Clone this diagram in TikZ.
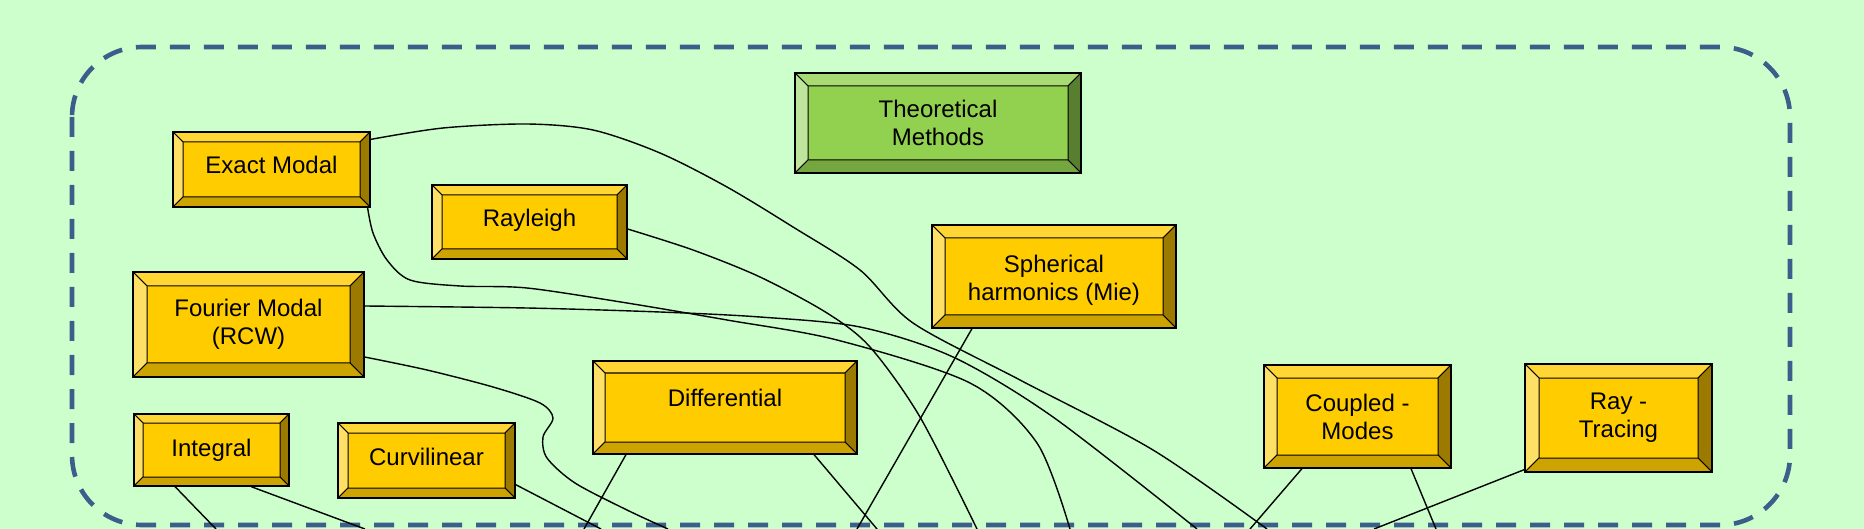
\documentclass[tikz,border=0pt]{standalone}
\usepackage{fontspec}
\setmainfont{Liberation Sans}

\definecolor{bgpale}{HTML}{CCFFCC}
\definecolor{grpblue}{HTML}{3C5E8B}
\definecolor{yelface}{HTML}{FFCC00}
\definecolor{yeltop}{HTML}{FFD633}
\definecolor{yelleft}{HTML}{FFE066}
\definecolor{yelright}{HTML}{9C7A00}
\definecolor{yelbot}{HTML}{CCA300}
\definecolor{grnface}{HTML}{92D050}
\definecolor{grntop}{HTML}{A8DC73}
\definecolor{grnleft}{HTML}{BEE59B}
\definecolor{grnright}{HTML}{587E30}
\definecolor{grnbot}{HTML}{75A640}

\newcommand\bevelfaces[1]{%
  \path (path picture bounding box.north west) coordinate (pnw)
        (path picture bounding box.north east) coordinate (pne)
        (path picture bounding box.south west) coordinate (psw)
        (path picture bounding box.south east) coordinate (pse);
  \path ([xshift=\bevsz,yshift=-\bevsz]pnw) coordinate (qnw)
        ([xshift=-\bevsz,yshift=-\bevsz]pne) coordinate (qne)
        ([xshift=\bevsz,yshift=\bevsz]psw) coordinate (qsw)
        ([xshift=-\bevsz,yshift=\bevsz]pse) coordinate (qse);
  \filldraw[line width=0.5pt, fill=#1top] (pnw) -- (pne) -- (qne) -- (qnw) -- cycle;
  \filldraw[line width=0.5pt, fill=#1left] (pnw) -- (qnw) -- (qsw) -- (psw) -- cycle;
  \filldraw[line width=0.5pt, fill=#1right] (pne) -- (pse) -- (qse) -- (qne) -- cycle;
  \filldraw[line width=0.5pt, fill=#1bot] (psw) -- (qsw) -- (qse) -- (pse) -- cycle;
}

\tikzset{
  bev/.store in=\bevsz, bev=5pt,
  bevelbox/.style={draw=black, line width=0.6pt, fill=#1face, inner sep=0pt,
    font=\fontsize{12}{14}\selectfont, align=center,
    path picture={\bevelfaces{#1}}},
  link/.style={draw=black, line width=0.7pt},
  grpframe/.style={draw=grpblue, line width=2.3pt, dash pattern=on 10pt off 7pt,
    rounded corners=35pt},
}

\begin{document}
\begin{tikzpicture}[x=0.5pt, y=-0.5pt]
   \useasboundingbox (0,0) rectangle (1864,529);
   \fill[bgpale] (0,0) rectangle (1864,529);
   \draw[grpframe] (72,47) rectangle (1790,525);

   \node[bevelbox=grn, bev=6.5pt, minimum width=143pt, minimum height=50pt]
      (thm) at (938,123) {Theoretical\\Methods};
   \node[bevelbox=yel, bev=5pt, minimum width=98.5pt, minimum height=37.5pt, text depth=5pt]
      (exm) at (271.5,169.5) {Exact Modal};
   \node[bevelbox=yel, bev=5pt, minimum width=97.5pt, minimum height=37pt, text depth=4pt]
      (ray) at (529.5,222) {Rayleigh};
   \node[bevelbox=yel, bev=6.5pt, minimum width=122pt, minimum height=51.5pt, text height=26pt]
      (sph) at (1054,276.5) {Spherical\\harmonics (Mie)};
   \node[bevelbox=yel, bev=7pt, minimum width=115.5pt, minimum height=52.5pt]
      (fmm) at (248.5,324.5) {Fourier Modal\\(RCW)};
   \node[bevelbox=yel, bev=4.5pt, minimum width=77.5pt, minimum height=36pt]
      (intg) at (211.5,450) {Integral};
   \node[bevelbox=yel, bev=5pt, minimum width=88.5pt, minimum height=37.5pt, text depth=3.5pt]
      (curv) at (426.5,460.5) {Curvilinear};
   \node[bevelbox=yel, bev=6pt, minimum width=132pt, minimum height=46.5pt, text depth=10pt]
      (diff) at (725,407.5) {Differential};
   \node[bevelbox=yel, bev=6.5pt, minimum width=93.5pt, minimum height=51.5pt]
      (cpm) at (1357.5,416.5) {Coupled -\\Modes};
   \node[bevelbox=yel, bev=7pt, minimum width=93.5pt, minimum height=54pt]
      (rtr) at (1618.5,418) {Ray -\\Tracing};

   % free ends on the lower edge
   \coordinate (low1) at (216,529);
   \coordinate (low2) at (365,529);
   \coordinate (low3) at (601,529);
   \coordinate (low4) at (584,529);
   \coordinate (low5) at (877,529);
   \coordinate (low6) at (857,529);
   \coordinate (low7) at (1250,529);
   \coordinate (low8) at (1436,529);
   \coordinate (low9) at (1374,529);
   \coordinate (lowA) at (1267,529);
   \coordinate (lowB) at (1070,529);
   \coordinate (lowC) at (977,529);
   \coordinate (lowD) at (1197,529);
   \coordinate (lowE) at (668,529);

   \draw[link] ([shift={(-36.5,0)}]intg.south) -- (low1);
   \draw[link] ([shift={(39.5,0)}]intg.south) -- (low2);
   \draw[link] ([shift={(0,-14)}]curv.south east) -- (low3);
   \draw[link] ([shift={(-99,0)}]diff.south) -- (low4);
   \draw[link] ([shift={(89,0)}]diff.south) -- (low5);
   \draw[link] ([shift={(-82,0)}]sph.south) -- (low6);
   \draw[link] ([shift={(-55.5,0)}]cpm.south) -- (low7);
   \draw[link] ([shift={(53.5,0)}]cpm.south) -- (low8);
   \draw[link] ([shift={(0,-3)}]rtr.south west) -- (low9);

   \coordinate (exm1) at ([shift={(0,8)}]exm.north east);
   \coordinate (exm2) at ([shift={(-3,0)}]exm.south east);
   \coordinate (ray1) at ([shift={(0,7)}]ray.east);
   \coordinate (fmm1) at ([shift={(0,-18.5)}]fmm.east);
   \coordinate (fmm2) at ([shift={(0,32.5)}]fmm.east);

   \draw[link] plot[smooth] coordinates {(exm1) (443,128) (527,124) (593,130)
      (660,153) (727,187) (793,227) (860,270) (913,323) (1020,380) (1153,450) (lowA)};
   \draw[link] plot[smooth] coordinates {(exm2) (373,233) (387,260) (410,280)
      (460,286) (527,288) (627,303) (727,320) (837,340) (970,383) (1037,443) (lowB)};
   \draw[link] plot[smooth] coordinates {(ray1) (693,250) (760,277) (827,313)
      (870,347) (920,417) (lowC)};
   \draw[link] plot[smooth] coordinates {(fmm1) (527,308) (660,312) (760,317)
      (860,327) (953,357) (1053,417) (lowD)};
   \draw[link] plot[smooth] coordinates {(fmm2) (427,370) (493,387) (540,403)
      (553,418) (543,437) (547,458) (575,483) (627,510) (lowE)};
\end{tikzpicture}
\end{document}
